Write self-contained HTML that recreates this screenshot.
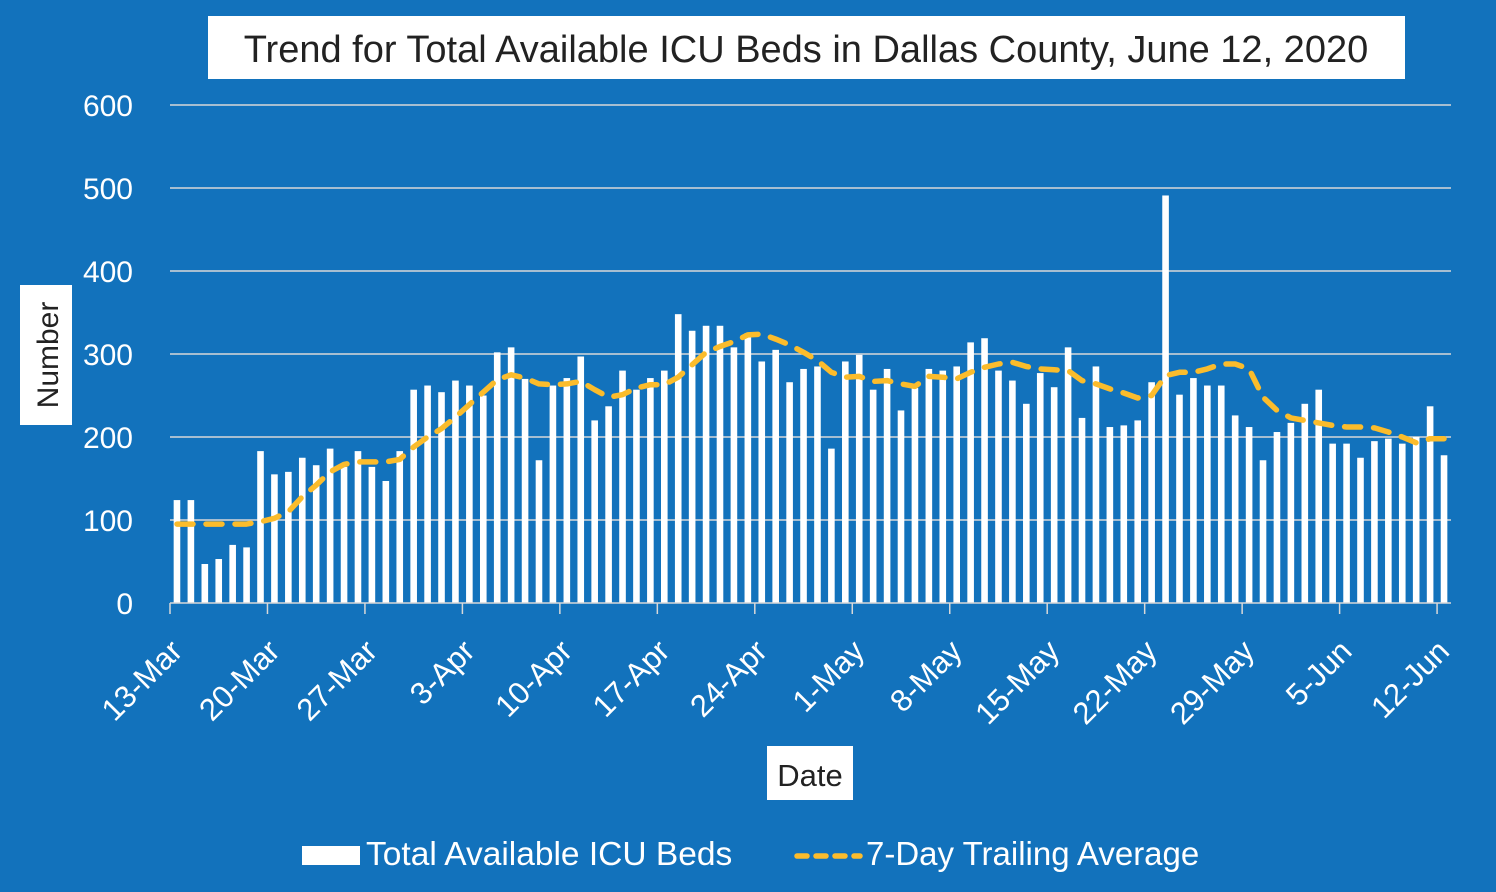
<!DOCTYPE html>
<html><head><meta charset="utf-8"><style>
body{margin:0;background:#1272BC;}
svg{display:block;font-family:"Liberation Sans",sans-serif;}
</style></head><body>
<svg id="chart" width="1496" height="892" viewBox="0 0 1496 892">
<rect x="0" y="0" width="1496" height="892" fill="#1272BC"/>
<rect x="208" y="16" width="1197" height="63" fill="#fff"/>
<text x="806" y="62" text-anchor="middle" font-size="38" fill="#222">Trend for Total Available ICU Beds in Dallas County, June 12, 2020</text>
<g id="grid"></g>
<g id="bars"></g>
<g id="xaxis"></g>
<polyline id="avg" fill="none" stroke="#FBBC2C" stroke-width="5.5" stroke-linecap="round" stroke-linejoin="round" stroke-dasharray="16 13"/>
<rect x="20" y="285" width="52" height="140" fill="#fff"/>
<text transform="translate(58,355) rotate(-90)" text-anchor="middle" font-size="30" fill="#222">Number</text>
<rect x="767" y="746" width="86" height="54" fill="#fff"/>
<text x="810" y="786" text-anchor="middle" font-size="31" fill="#222">Date</text>
<g>
<rect x="302" y="846" width="58" height="19" fill="#fff"/>
<text x="366" y="865" font-size="33.5" fill="#fff">Total Available ICU Beds</text>
<line x1="797" y1="856" x2="860" y2="856" stroke="#FBBC2C" stroke-width="5.5" stroke-linecap="round" stroke-dasharray="10 9"/>
<text x="866" y="865" font-size="33" fill="#fff">7-Day Trailing Average</text>
</g>
</svg>
<script>
const beds=[124,124,47,53,70,67,183,155,158,175,166,186,164,183,164,147,183,257,262,254,268,262,250,302,308,270,172,262,271,297,220,237,280,257,271,280,348,328,334,334,308,325,291,305,266,282,285,186,291,299,257,282,232,259,282,280,285,314,319,280,268,240,277,260,308,223,285,212,214,220,266,491,251,271,262,262,226,212,172,206,217,240,257,192,192,175,195,198,192,200,237,178];
const avg=[95,95,95,95,95,95,98,102,110,128,142,158,167,170,170,170,173,188,200,210,224,239,254,269,275,271,264,263,264,267,257,248,251,259,263,263,272,287,302,309,315,323,324,318,311,302,292,278,272,273,267,268,264,261,273,272,270,278,284,288,290,285,282,281,280,268,264,258,253,247,250,274,278,278,282,288,288,282,248,232,223,220,217,214,212,212,211,206,200,193,198,198];
const yTicks=[0,100,200,300,400,500,600];
const xLabels=["13-Mar","20-Mar","27-Mar","3-Apr","10-Apr","17-Apr","24-Apr","1-May","8-May","15-May","22-May","29-May","5-Jun","12-Jun"];
const NS="http://www.w3.org/2000/svg";
const x0=170,x1=1451,y0=603,yTop=105,n=beds.length,step=(x1-x0)/n;
const ys=v=>y0-(v/600)*(y0-yTop);
const xc=i=>x0+step*(i+0.5);
function mk(t,a,p){const e=document.createElementNS(NS,t);for(const k in a)e.setAttribute(k,a[k]);p.appendChild(e);return e;}
const grid=document.getElementById('grid');
yTicks.forEach(v=>{
  if(v>0){const l=mk('line',{x1:x0,x2:x1,y1:ys(v),y2:ys(v),stroke:'#d8d8d8','stroke-width':1.5},grid);
  
  }
  const t=mk('text',{x:133,y:ys(v)+11,'text-anchor':'end','font-size':30,fill:'#fff'},grid);
  t.textContent=v;
  
  
});
const bars=document.getElementById('bars');
beds.forEach((v,i)=>{
  const r=mk('rect',{x:xc(i)-3.3,y:ys(v),width:6.6,height:y0-ys(v),fill:'#fff'},bars);
  
  
});
const xa=document.getElementById('xaxis');
const base=mk('line',{x1:x0,x2:x1,y1:y0,y2:y0,stroke:'#d8d8d8','stroke-width':1.5},xa);


xLabels.forEach((s,k)=>{
  const tx=x0+step*7*k;
  const tk=mk('line',{x1:tx,x2:tx,y1:y0,y2:y0+11,stroke:'#d8d8d8','stroke-width':1.5},xa);
  
  
  const t=mk('text',{transform:`translate(${tx+14},${y0+50}) rotate(-45)`,'text-anchor':'end','font-size':31,fill:'#fff'},xa);
  t.textContent=s;
  
  
});
document.getElementById('avg').setAttribute('points',avg.map((v,i)=>xc(i).toFixed(1)+','+ys(v).toFixed(1)).join(' '));
</script>
</body></html>
